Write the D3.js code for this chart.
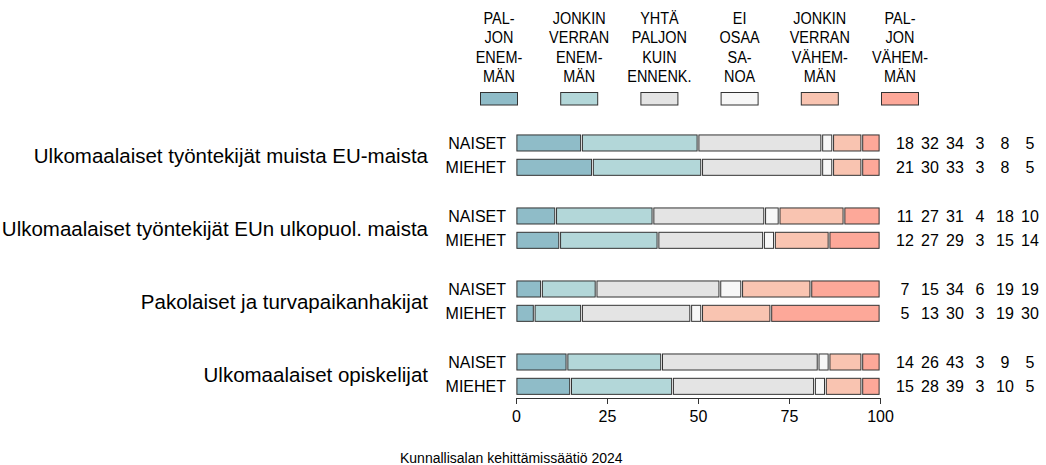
<!DOCTYPE html>
<html>
<head>
<meta charset="utf-8">
<script src="https://cdn.jsdelivr.net/npm/d3@7"></script>
<style>
  body { margin: 0; background: #fff; }
  svg text { font-family: "Liberation Sans", Arial, sans-serif; fill: #000; }
</style>
</head>
<body>
<div id="chart"></div>
<script>
// data
const groups = [
  "Ulkomaalaiset työntekijät muista EU-maista",
  "Ulkomaalaiset työntekijät EUn ulkopuol. maista",
  "Pakolaiset ja turvapaikanhakijat",
  "Ulkomaalaiset opiskelijat"
];
const genders = ["NAISET", "MIEHET"];
const categories = ["paljon_enemman", "jonkin_enemman", "yhta", "eos", "jonkin_vahemman", "paljon_vahemman"];
const legendLines = [
  ["PAL-", "JON", "ENEM-", "MÄN"],
  ["JONKIN", "VERRAN", "ENEM-", "MÄN"],
  ["YHTÄ", "PALJON", "KUIN", "ENNENK."],
  ["EI", "OSAA", "SA-", "NOA"],
  ["JONKIN", "VERRAN", "VÄHEM-", "MÄN"],
  ["PAL-", "JON", "VÄHEM-", "MÄN"]
];
// one row per group x gender, in category order
const values = [
  [18, 32, 34, 3, 8, 5],
  [21, 30, 33, 3, 8, 5],
  [11, 27, 31, 4, 18, 10],
  [12, 27, 29, 3, 15, 14],
  [7, 15, 34, 6, 19, 19],
  [5, 13, 30, 3, 19, 30],
  [14, 26, 43, 3, 9, 5],
  [15, 28, 39, 3, 10, 5]
];
const ticks = [0, 25, 50, 75, 100];
const caption = "Kunnallisalan kehittämissäätiö 2024";

const colors = ["#8fbcc8", "#b3d7d9", "#e4e4e4", "#f7f7f7", "#f9c4b1", "#fda899"];

const W = 1046, H = 465;
const svg = d3.select("#chart").append("svg")
  .attr("width", W).attr("height", H);

const color = d3.scaleOrdinal().domain(categories).range(colors);

const x = d3.scaleLinear().domain([0, 100]).range([516, 880]);

// slots: 2 bars per group + 1 blank between groups
const slots = d3.range(11);
const y = d3.scaleBand().domain(slots).range([130.8, 398.5])
  .paddingInner(0.3).paddingOuter(0.15);

// rounded percentages may not add to exactly 100, so bars are scaled to the row total
const rows = values.map((v, i) => {
  const g = Math.floor(i / 2), s = i % 2;
  const total = d3.sum(v);
  let acc = 0;
  const segs = v.map((val, k) => {
    const share = val / total * 100;
    const seg = {key: categories[k], x0: acc, x1: acc + share, val: val};
    acc += share;
    return seg;
  });
  return {group: g, gender: genders[s], slot: g * 3 + s, segs: segs, vals: v};
});

// bars
const rowG = svg.append("g").selectAll("g")
  .data(rows)
  .join("g")
    .attr("transform", d => `translate(0,${y(d.slot)})`);

rowG.selectAll("rect")
  .data(d => d.segs)
  .join("rect")
    .attr("x", d => x(d.x0) + 0.9)
    .attr("width", d => Math.max(0, x(d.x1) - x(d.x0) - 1.8))
    .attr("y", 0.5)
    .attr("height", y.bandwidth() - 1)
    .attr("fill", d => color(d.key))
    .attr("stroke", "#333")
    .attr("stroke-width", 1);

// gender labels
rowG.append("text")
  .attr("x", 506)
  .attr("y", y.bandwidth() / 2)
  .attr("dy", "0.36em")
  .attr("text-anchor", "end")
  .style("font-size", "16px")
  .text(d => d.gender);

// value columns at the right
const colX = d3.scalePoint().domain(d3.range(6)).range([905, 1030]);
rowG.selectAll("text.val")
  .data(d => d.vals)
  .join("text")
    .attr("class", "val")
    .attr("x", (d, k) => colX(k))
    .attr("y", y.bandwidth() / 2)
    .attr("dy", "0.36em")
    .attr("text-anchor", "middle")
    .style("font-size", "16px")
    .text(d => d);

// group labels
svg.append("g").selectAll("text")
  .data(groups)
  .join("text")
    .attr("x", 428)
    .attr("y", (d, i) => (y(i * 3) + y(i * 3 + 1) + y.bandwidth()) / 2)
    .attr("dy", "0.36em")
    .attr("text-anchor", "end")
    .style("font-size", "20.5px")
    .text(d => d);

// axis
const axis = svg.append("g")
  .attr("transform", "translate(0,398)")
  .call(d3.axisBottom(x).tickValues(ticks).tickSize(6).tickSizeOuter(0).tickPadding(7));
axis.select(".domain").attr("stroke", "#333");
axis.selectAll(".tick line").attr("stroke", "#333");
axis.selectAll(".tick text")
  .style("font-size", "16px")
  .style("font-family", "Liberation Sans, Arial, sans-serif")
  .attr("fill", "#000");

// legend
const lx = d3.scalePoint().domain(categories).range([499, 900]);
const leg = svg.append("g").selectAll("g")
  .data(categories)
  .join("g")
    .attr("transform", d => `translate(${lx(d)},0)`);

leg.append("rect")
  .attr("x", -18.5).attr("y", 92.5)
  .attr("width", 37).attr("height", 12.5)
  .attr("fill", d => color(d))
  .attr("stroke", "#333");

leg.append("g")
  .attr("transform", "scale(0.85,1)")
  .selectAll("text")
  .data((d, i) => legendLines[i])
  .join("text")
    .attr("x", 0)
    .attr("y", (d, j) => 24 + j * 19.5)
    .attr("text-anchor", "middle")
    .style("font-size", "17px")
    .text(d => d);

// caption
svg.append("text")
  .attr("x", 400)
  .attr("y", 463)
  .style("font-size", "14px")
  .text(caption);
</script>
</body>
</html>
